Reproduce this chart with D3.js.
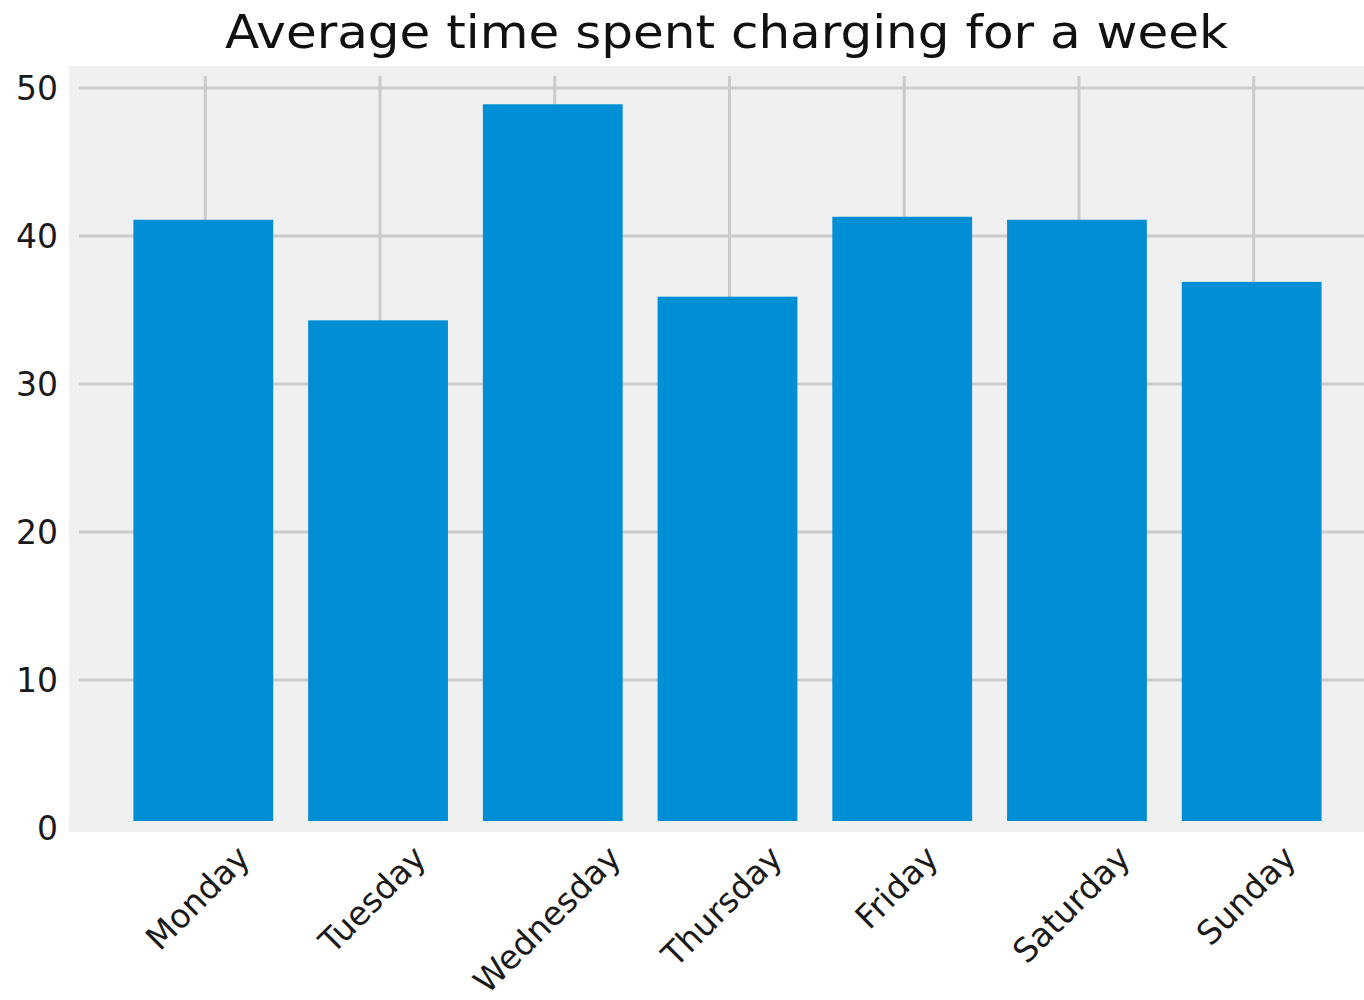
<!DOCTYPE html>
<html>
<head>
<meta charset="utf-8">
<script src="https://cdn.jsdelivr.net/npm/d3@7"></script>
<style>
  body { margin: 0; background: #fff; }
  text { font-family: "DejaVu Sans", sans-serif; }
</style>
</head>
<body>
<svg width="1364" height="1000"></svg>
<script>
// data
var days = ["Monday", "Tuesday", "Wednesday", "Thursday", "Friday", "Saturday", "Sunday"];
var hours = [41.1, 34.3, 48.9, 35.9, 41.3, 41.1, 36.9];
var yTicks = [0, 10, 20, 30, 40, 50];
var title = "Average time spent charging for a week";

var svg = d3.select("svg");

// plot frame (axes area runs off the right side like the reference)
var axLeft = 74, axRight = 1381, axTop = 76, axBottom = 821;

var x = d3.scaleBand()
    .domain(days)
    .range([axLeft, axRight])
    .paddingInner(0.2)
    .paddingOuter(0.34);

var y = d3.scaleLinear()
    .domain([0, 50])
    .range([828, 88]);

function cx(d) { return x(d) + x.bandwidth() / 2; }

// light grey figure background
svg.append("rect")
    .attr("x", 69)
    .attr("y", 66)
    .attr("width", 1364 - 69)
    .attr("height", 832 - 66)
    .attr("fill", "#f0f0f0");

svg.append("clipPath")
    .attr("id", "plot")
    .append("rect")
    .attr("x", 79)
    .attr("y", axTop)
    .attr("width", axRight - 79)
    .attr("height", axBottom - axTop);

var plot = svg.append("g").attr("clip-path", "url(#plot)");

// horizontal grid
plot.append("g")
    .selectAll("line")
    .data(yTicks.filter(function (d) { return d > 0; }))
    .enter()
    .append("line")
    .attr("x1", 79)
    .attr("x2", axRight)
    .attr("y1", function (d) { return y(d); })
    .attr("y2", function (d) { return y(d); })
    .attr("stroke", "#cbcbcb")
    .attr("stroke-width", 3);

// vertical grid
plot.append("g")
    .selectAll("line")
    .data(days)
    .enter()
    .append("line")
    .attr("x1", function (d) { return cx(d) + 2; })
    .attr("x2", function (d) { return cx(d) + 2; })
    .attr("y1", axTop)
    .attr("y2", axBottom)
    .attr("stroke", "#cbcbcb")
    .attr("stroke-width", 3);

// bars
plot.append("g")
    .selectAll("rect")
    .data(days)
    .enter()
    .append("rect")
    .attr("x", function (d) { return x(d); })
    .attr("width", x.bandwidth())
    .attr("y", function (d, i) { return y(hours[i]); })
    .attr("height", function (d, i) { return y(0) - y(hours[i]); })
    .attr("fill", "#008fd5");

// y tick labels
svg.append("g")
    .selectAll("text")
    .data(yTicks)
    .enter()
    .append("text")
    .attr("x", 58)
    .attr("y", function (d) { return y(d); })
    .attr("dy", "0.36em")
    .attr("text-anchor", "end")
    .attr("font-size", 33)
    .attr("fill", "#1a1a1a")
    .text(function (d) { return d; });

// x tick labels rotated 45deg, top of rotated box aligned
var labelTop = 838;
var fs = 33;
var xl = svg.append("g")
    .selectAll("text")
    .data(days)
    .enter()
    .append("text")
    .attr("text-anchor", "middle")
    .attr("dy", "0.36em")
    .attr("font-size", fs)
    .attr("fill", "#1a1a1a")
    .text(function (d) { return d; });

xl.attr("transform", function (d) {
    var w = this.getComputedTextLength();
    var h = fs * 1.16;
    var tx = cx(d) - 6;
    var ty = labelTop + (w + h) * Math.SQRT1_2 / 2;
    return "translate(" + tx + "," + ty + ") rotate(-45)";
});

// title
svg.append("text")
    .attr("x", (225 + 1228) / 2)
    .attr("y", 48)
    .attr("text-anchor", "middle")
    .attr("font-size", 47)
    .attr("fill", "#111")
    .attr("textLength", 1003)
    .attr("lengthAdjust", "spacingAndGlyphs")
    .text(title);
</script>
</body>
</html>
